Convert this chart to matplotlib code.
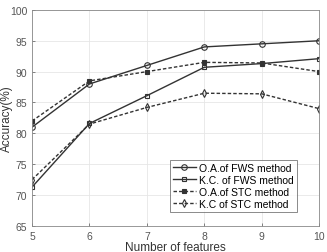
import matplotlib
matplotlib.use('Agg')
import matplotlib.pyplot as plt

plt.rcParams['font.family'] = ['Liberation Sans', 'DejaVu Sans']

features = [5, 6, 7, 8, 9, 10]
oa_fws = [81.0, 88.0, 91.0, 94.0, 94.5, 95.0]
kc_fws = [71.3, 81.6, 86.1, 90.7, 91.3, 92.1]
oa_stc = [82.0, 88.5, 90.0, 91.5, 91.4, 90.0]
kc_stc = [72.5, 81.5, 84.2, 86.5, 86.4, 84.0]

fig = plt.figure(figsize=(3.27, 2.53), dpi=100)
ax = fig.add_axes([0.098, 0.103, 0.878, 0.854])

lc = '#333333'
ax.plot(features, oa_fws, '-', color=lc, lw=1.0, marker='o', ms=4,
        mfc='none', mec=lc, mew=0.8, label='O.A.of FWS method')
ax.plot(features, kc_fws, '-', color=lc, lw=1.0, marker='s', ms=3.5,
        mfc='none', mec=lc, mew=0.8, label='K.C. of FWS method')
ax.plot(features, oa_stc, '--', color=lc, lw=1.0, marker='s', ms=2.5,
        mfc=lc, mec=lc, mew=0.8, dashes=(2.5, 1.5), label='O.A.of STC method')
ax.plot(features, kc_stc, '--', color=lc, lw=1.0, marker='d', ms=4,
        mfc='none', mec=lc, mew=0.8, dashes=(2.5, 1.5), label='K.C of STC method')

ax.set_xlim(5, 10)
ax.set_ylim(65, 100)
ax.set_xticks(features)
ax.set_yticks(range(65, 101, 5))
ax.grid(True, color='#e6e6e6', lw=0.6)
ax.tick_params(labelsize=7.5, colors='#555555', length=2, width=0.5, direction='in')
for s in ax.spines.values():
    s.set_color('#888888')
    s.set_linewidth(0.6)

ax.set_xlabel('Number of features', fontsize=8.5, color='#333333', labelpad=0)
ax.set_ylabel('Accuracy(%)', fontsize=8.5, color='#333333')
ax.yaxis.set_label_coords(-0.068, 0.5)

leg = ax.legend(loc='lower right', fontsize=7.5, frameon=True, fancybox=False,
                handlelength=2.2, borderpad=0.3, labelspacing=0.2,
                handletextpad=0.3, bbox_to_anchor=(0.94, 0.04))
leg.get_frame().set_edgecolor('#555555')
leg.get_frame().set_linewidth(0.6)

fig.savefig('out.png', dpi=100)
